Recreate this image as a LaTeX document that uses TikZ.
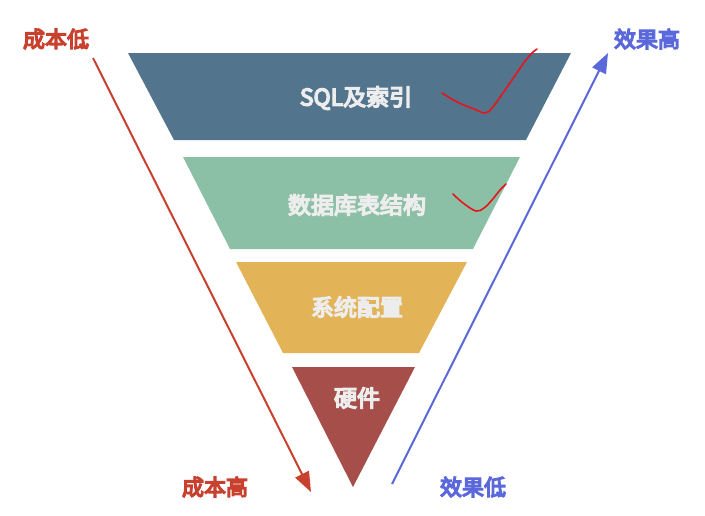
\documentclass[tikz,border=0pt]{standalone}
\usepackage{fontspec}
\newfontfamily\cjkb[FakeBold=6]{Noto Sans CJK SC}
\usetikzlibrary{arrows.meta}
\definecolor{lvA}{HTML}{52748D}
\definecolor{lvB}{HTML}{8BC0A6}
\definecolor{lvC}{HTML}{E2B357}
\definecolor{lvD}{HTML}{A64E4A}
\definecolor{txtc}{HTML}{EDEDED}
\definecolor{redc}{HTML}{C8412F}
\definecolor{bluec}{HTML}{5B68DC}
\definecolor{checkc}{HTML}{E8141B}
\tikzset{
  lvtext/.style={text=txtc, font=\cjkb\fontsize{23}{26}\selectfont, inner sep=0pt},
  sidelabel/.style={font=\cjkb\fontsize{22}{25}\selectfont, inner sep=0pt},
  redarrow/.style={draw=redc, line width=2pt, -{Triangle[length=20pt,width=15pt]}},
  bluearrow/.style={draw=bluec, line width=2pt, -{Triangle[length=20pt,width=15pt]}},
  checkmark/.style={draw=checkc, line width=1.6pt, line cap=round, line join=round},
}
\begin{document}
\begin{tikzpicture}[x=1pt,y=-1pt]
\useasboundingbox (0,0) rectangle (705,515);
% levels
\fill[lvA] (128,53) -- (571,53) -- (526,140) -- (174,140) -- cycle;
\fill[lvB] (183,157) -- (520,157) -- (473,249) -- (230,249) -- cycle;
\fill[lvC] (236,262) -- (467,262) -- (419,353) -- (283,353) -- cycle;
\fill[lvD] (292,367) -- (415,367) -- (353,487) -- cycle;
\node[lvtext] (l1) at (356,98) {SQL及索引};
\node[lvtext] (l2) at (357,205) {数据库表结构};
\node[lvtext] (l3) at (357,307) {系统配置};
\node[lvtext] (l4) at (357,398) {硬件};
% side labels
\node[sidelabel, text=redc] (costlow) at (56,39) {成本低};
\node[sidelabel, text=redc] (costhigh) at (215,487) {成本高};
\node[sidelabel, text=bluec] (efhigh) at (647,39) {效果高};
\node[sidelabel, text=bluec] (eflow) at (473,487) {效果低};
% arrows
\coordinate (rs) at (93,58);
\coordinate (re) at (311,492);
\coordinate (bs) at (392,484);
\coordinate (be) at (608,53);
\draw[redarrow] (rs) -- (re);
\draw[bluearrow] (bs) -- (be);
% check marks
\draw[checkmark] plot[smooth, tension=0.6] coordinates {(442,93) (457,102) (474,109) (485,113) (492,108) (503,93) (512,80) (523,64) (531,54) (537,49)};
\draw[checkmark] plot[smooth, tension=0.6] coordinates {(453,194) (463,203) (476,211) (484,208) (492,200) (500,190) (506,184)};
\end{tikzpicture}
\end{document}
